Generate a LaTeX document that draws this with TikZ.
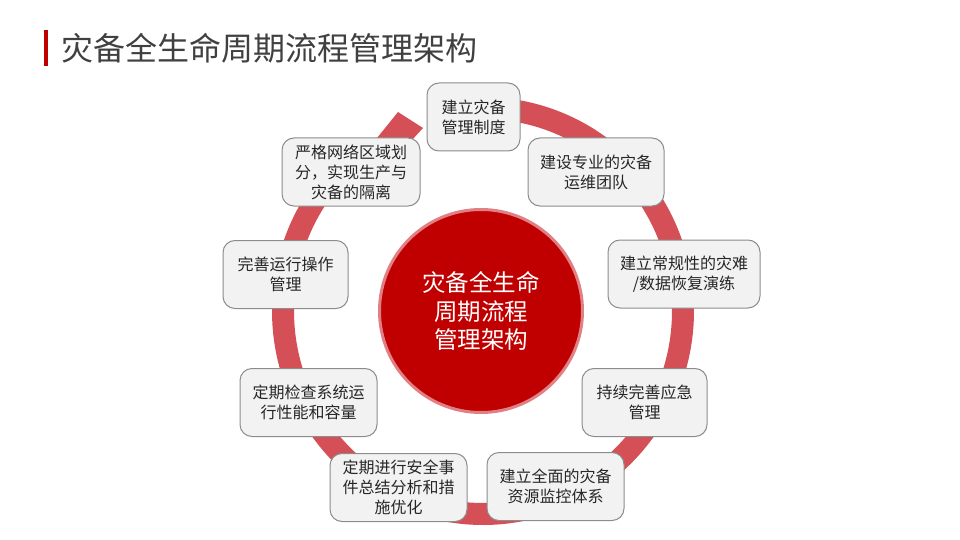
\documentclass[tikz,border=0pt]{standalone}
\usepackage{fontspec}
\newfontfamily\cjk{Noto Sans CJK SC}
\definecolor{ringcol}{RGB}{212,80,86}
\definecolor{hubfill}{RGB}{192,0,0}
\definecolor{hubline}{RGB}{224,128,132}
\definecolor{boxfill}{RGB}{242,242,242}
\definecolor{boxline}{RGB}{140,140,140}
\definecolor{boxtext}{RGB}{38,38,38}
\definecolor{titlecol}{RGB}{64,64,64}
\definecolor{barcol}{RGB}{192,0,0}
\begin{document}
\begin{tikzpicture}[x=1pt,y=-1pt,
  stagebox/.style={draw=boxline, fill=boxfill, line width=1pt, rounded corners=12pt,
    minimum height=68pt, inner sep=0pt, align=center, text=boxtext,
    font=\cjk\fontsize{16}{20}\selectfont},
  hub/.style={circle, fill=hubfill, draw=hubline, line width=3pt, minimum size=203pt,
    inner sep=0pt, align=center, text=white, font=\cjk\fontsize{23.5}{28.5}\selectfont},
  ringline/.style={draw=ringcol, line width=22pt, line cap=butt},
  headfill/.style={fill=ringcol}
]
\useasboundingbox (0,0) rectangle (960,540);
% title
\fill[barcol] (44,30) rectangle (48,66);
\node[anchor=base west, inner sep=0pt, text=titlecol, font=\cjk\fontsize{32}{36}\selectfont] (title) at (61,61) {灾备全生命周期流程管理架构};
% ring with arrow head
\draw[ringline] plot[domain=100:-233, samples=200, smooth] ({483+200*cos(\x)}, {311-203*sin(\x)});
\coordinate (tip) at (423,128);
\coordinate (backtop) at (398,112);
\coordinate (backleft) at (377,138);
\coordinate (joinout) at (352,150);
\coordinate (joinin) at (372,166);
\coordinate (backbot) at (412,140);
\fill[headfill] (tip) -- (backtop) -- (backleft) -- (joinout) -- (joinin) -- (backbot) -- cycle;
% hub
\node[hub] (hub) at (481,311) {灾备全生命\\周期流程\\管理架构};
% stages
\node[stagebox, minimum width=93pt] (s1) at (473.5,117) {建立灾备\\管理制度};
\node[stagebox, minimum width=136pt] (s2) at (596,172) {建设专业的灾备\\运维团队};
\node[stagebox, minimum width=152pt] (s3) at (684,274) {建立常规性的灾难\\/数据恢复演练};
\node[stagebox, minimum width=125pt] (s4) at (644.5,402.5) {持续完善应急\\管理};
\node[stagebox, minimum width=137pt] (s5) at (555.5,486.5) {建立全面的灾备\\资源监控体系};
\node[stagebox, minimum width=137pt] (s6) at (398.5,487.5) {定期进行安全事\\件总结分析和措\\施优化};
\node[stagebox, minimum width=137pt] (s7) at (308.5,402.5) {定期检查系统运\\行性能和容量};
\node[stagebox, minimum width=125pt] (s8) at (285.5,274.5) {完善运行操作\\管理};
\node[stagebox, minimum width=138pt] (s9) at (351,172) {严格网络区域划\\分，实现生产与\\灾备的隔离};
\end{tikzpicture}
\end{document}
